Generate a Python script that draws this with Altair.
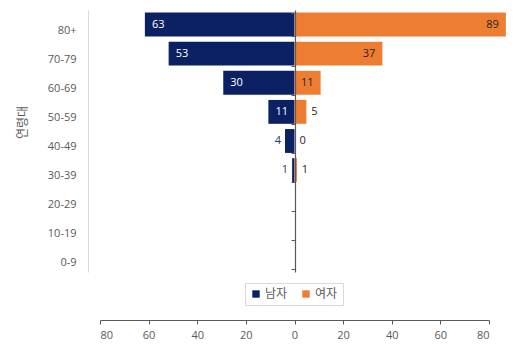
import altair as alt
import pandas as pd

ages = ["80+", "70-79", "60-69", "50-59", "40-49", "30-39", "20-29", "10-19", "0-9"]
male = [63, 53, 30, 11, 4, 1, None, None, None]
female = [89, 37, 11, 5, 0, 1, None, None, None]
sexes = ["남자", "여자"]
colors = ["#0c2163", "#ED7D31"]
axis_ticks = [-80, -60, -40, -20, 0, 20, 40, 60, 80]

rows = []
for a, m, f in zip(ages, male, female):
    if m is not None:
        rows.append({"age": a, "sex": sexes[0], "value": m})
    if f is not None:
        rows.append({"age": a, "sex": sexes[1], "value": f})
df = pd.DataFrame(rows)

NUM_FONT = "Open Sans"
KR_FONT = "Noto Sans CJK KR"
GRAY = "#595959"

base = alt.Chart(df).transform_calculate(
    sv="datum.sex == '남자' ? -datum.value : datum.value"
)

xbar = alt.X("sv:Q", scale=alt.Scale(domain=[-81.9, 81.9], nice=False, zero=False), axis=None)
yscale = alt.Scale(domain=ages, paddingInner=0.18, paddingOuter=0.09)

bars = base.mark_bar().encode(
    x=xbar,
    y=alt.Y("age:N", scale=yscale, sort=ages,
            axis=alt.Axis(title="연령대", orient="left", offset=12, ticks=False,
                          domainColor="#d9d9d9", labelColor=GRAY, labelFont=NUM_FONT,
                          labelFontSize=11, labelPadding=12, labelOffset=6,
                          titleFont=KR_FONT,
                          titleFontSize=12, titleFontWeight="normal", titleColor=GRAY,
                          titleX=-59, titleY=112, titleAngle=270, grid=False)),
    color=alt.Color("sex:N", scale=alt.Scale(domain=sexes, range=colors),
                    legend=alt.Legend(title=None, orient="none", direction="horizontal",
                                      legendX=145, legendY=273, strokeColor="#d9d9d9",
                                      padding=5, symbolType="square", symbolSize=55,
                                      symbolStrokeWidth=0, labelFont=KR_FONT,
                                      labelFontSize=12, labelColor=GRAY,
                                      columnPadding=12, labelOffset=3)),
)

def lbl(flt, align, dx, color):
    return base.transform_filter(flt).mark_text(
        align=align, dx=dx, baseline="middle", font=NUM_FONT, fontSize=11, color=color
    ).encode(x=xbar, y=alt.Y("age:N", scale=yscale, sort=ages), text="value:Q")

t1 = lbl("datum.sex == '남자' && datum.value >= 10", "left", 7, "white")
t2 = lbl("datum.sex == '남자' && datum.value < 10", "right", -4, "#2b3a67")
t3 = lbl("datum.sex == '여자' && datum.value >= 10", "right", -7, "#262626")
t4 = lbl("datum.sex == '여자' && datum.value < 10", "left", 5, "#262626")

inner = alt.layer(bars, t1, t2, t3, t4)

axis_layer = base.mark_point(opacity=0).encode(
    x=alt.X("sv:Q", scale=alt.Scale(domain=[-80, 80], nice=False),
            axis=alt.Axis(values=axis_ticks, labelExpr="abs(datum.value)", title=None,
                          offset=48, grid=False, domainColor=GRAY, tickColor=GRAY,
                          tickSize=4, labelColor=GRAY, labelFont=NUM_FONT,
                          labelFontSize=11, labelPadding=5)),
    y=alt.Y("age:N", scale=yscale, sort=ages,
            axis=alt.Axis(title=None, orient="left", offset=-195, labels=False,
                          tickBand="extent", tickSize=4, tickColor=GRAY,
                          domainColor=GRAY, domainWidth=1.2, grid=False, zindex=1)),
)

chart = alt.layer(inner, axis_layer).resolve_scale(x="independent").resolve_axis(
    y="independent"
).properties(
    width=389, height=262,
    autosize=alt.AutoSizeParams(type="none"),
    padding={"left": 100, "top": 10, "right": 31, "bottom": 83},
).configure(background="white").configure_view(strokeWidth=0, stroke="transparent")

chart.save("out.html", embed_options={"renderer": "svg", "actions": False})
